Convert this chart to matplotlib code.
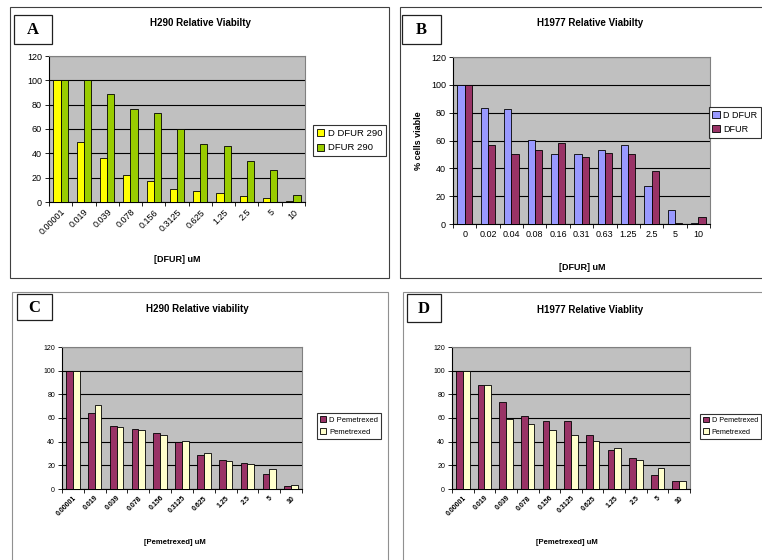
import numpy as np
import matplotlib.pyplot as plt
from matplotlib.patches import Rectangle

plt.rcParams['font.family'] = ['Liberation Sans', 'DejaVu Sans']

W, H = 762, 560

# panel A - H290 DFUR
dfur_a_labels = ['0.00001', '0.019', '0.039', '0.078', '0.156', '0.3125',
                 '0.625', '1.25', '2.5', '5', '10']
d_dfur_290 = [100, 49, 36, 22, 17, 11, 9, 7, 5, 3, 0.8]
dfur_290 = [100, 100, 88.5, 76.5, 73.5, 60, 48, 46, 34, 26, 5.7]

# panel B - H1977 DFUR
dfur_b_labels = ['0', '0.02', '0.04', '0.08', '0.16', '0.31', '0.63', '1.25',
                 '2.5', '5', '10']
d_dfur_1977 = [100, 83.2, 82.3, 60.5, 50, 50.4, 53, 56.5, 27.3, 10, 0.5]
dfur_1977 = [100, 56.5, 50.5, 53, 58.5, 48.5, 51, 50.5, 38, 0.5, 5]

# panels C and D - pemetrexed
pem_labels = ['0.00001', '0.019', '0.039', '0.078', '0.156', '0.3125',
              '0.625', '1.25', '2.5', '5', '10']
d_pem_290 = [100, 64.2, 53.6, 50.3, 47.5, 39.5, 29, 24.6, 21.8, 12.8, 2.5]
pem_290 = [100, 71.2, 52.5, 50, 45.5, 40.5, 30.4, 23.5, 21, 16.5, 3.4]
d_pem_1977 = [100, 87.5, 73.3, 62, 57.2, 57.2, 45.6, 32.8, 25.8, 11.7, 7]
pem_1977 = [100, 87.5, 59.4, 55, 50, 45.3, 40.8, 35, 24.7, 17.5, 7]

YELLOW = '#FFFF00'
GREEN = '#99CC00'
LAVENDER = '#9999FF'
MAROON = '#993366'
CREAM = '#FFFFCC'


def box(x0, y0, x1, y1):
    # pixel box -> figure fraction [left, bottom, width, height]
    return [x0 / W, 1 - y1 / H, (x1 - x0) / W, (y1 - y0) / H]


def frame(fig, x0, y0, x1, y1, color, lw=0.8):
    l, b, w, h = box(x0, y0, x1, y1)
    fig.patches.append(Rectangle((l, b), w, h, transform=fig.transFigure,
                                 fill=False, edgecolor=color, lw=lw))


def ftext(fig, x, y, s, **kw):
    fig.text(x / W, 1 - y / H, s, ha='center', va='center', **kw)


def letter_box(fig, x0, y0, x1, y1, s):
    frame(fig, x0, y0, x1, y1, '#202020', lw=0.9)
    ftext(fig, (x0 + x1) / 2, (y0 + y1) / 2 + 1, s, fontsize=12,
          fontweight='bold', family='Liberation Serif')


def bar_panel(ax, labels, s1, s2, c1, c2, names, leg_xy, tick_fs=6.5,
              rot=45, tick_bold=False, leg_fs=6.5, leg_loc='upper left'):
    n = len(labels)
    x = np.arange(n)
    w = 0.31
    ax.set_facecolor('#C0C0C0')
    b1 = ax.bar(x - w / 2, s1, w, color=c1, edgecolor='black', lw=0.6,
                label=names[0], zorder=3)
    b2 = ax.bar(x + w / 2, s2, w, color=c2, edgecolor='black', lw=0.6,
                label=names[1], zorder=3)
    ax.set_xlim(-0.5, n - 0.5)
    ax.set_ylim(0, 120)
    ax.set_yticks(np.arange(0, 121, 20))
    ax.yaxis.grid(True, color='black', lw=0.8, zorder=1)
    ax.set_axisbelow(True)
    for side in ['top', 'right']:
        ax.spines[side].set_color('#808080')
    ax.tick_params(axis='y', labelsize=tick_fs, length=3, width=0.6, pad=2)
    ax.set_xticks(np.arange(n + 1) - 0.5, minor=False)
    ax.set_xticklabels([])
    ax.tick_params(axis='x', which='major', length=3, width=0.6)
    ax.set_xticks(x, minor=True)
    if rot:
        ax.set_xticklabels(labels, minor=True, rotation=rot, ha='right',
                           rotation_mode='anchor', fontsize=tick_fs,
                           fontweight='bold' if tick_bold else 'normal')
    else:
        ax.set_xticklabels(labels, minor=True, fontsize=tick_fs)
    ax.tick_params(axis='x', which='minor', length=0, pad=4)
    leg = ax.legend(handles=[b1, b2], loc=leg_loc,
                    bbox_to_anchor=(leg_xy[0] / W, 1 - leg_xy[1] / H),
                    bbox_transform=ax.figure.transFigure, fontsize=leg_fs,
                    frameon=True, fancybox=False, edgecolor='black',
                    handlelength=0.8, handleheight=0.8, handletextpad=0.4,
                    borderpad=0.4, labelspacing=0.6, borderaxespad=0)
    leg.get_frame().set_linewidth(0.8)


fig = plt.figure(figsize=(W / 100, H / 100), dpi=100)

# ---- A ----
frame(fig, 10, 7, 389, 278, '#404040')
letter_box(fig, 14, 15, 52, 44, 'A')
ftext(fig, 200, 23, 'H290 Relative Viabilty', fontsize=7, fontweight='bold')
axA = fig.add_axes(box(49, 56, 305, 202))
bar_panel(axA, dfur_a_labels, d_dfur_290, dfur_290, YELLOW, GREEN,
          ['D DFUR 290', 'DFUR 290'], (313, 125), tick_fs=6.5, leg_fs=6.8)
ftext(fig, 177, 260, '[DFUR] uM', fontsize=6.5, fontweight='bold')

# ---- B ----
frame(fig, 400, 7, 800, 278, '#404040')
letter_box(fig, 402, 15, 441, 44, 'B')
ftext(fig, 590, 23, 'H1977 Relative Viabilty', fontsize=7, fontweight='bold')
axB = fig.add_axes(box(453, 57, 710, 224))
bar_panel(axB, dfur_b_labels, d_dfur_1977, dfur_1977, LAVENDER, MAROON,
          ['D DFUR', 'DFUR'], (761, 107), tick_fs=6.5, rot=0, leg_fs=6.5,
          leg_loc='upper right')
axB.set_ylabel('% cells viable', fontsize=6.5, fontweight='bold', labelpad=6)
ftext(fig, 582, 267, '[DFUR] uM', fontsize=6.5, fontweight='bold')

# ---- C ----
frame(fig, 12, 292, 388, 600, '#909090')
letter_box(fig, 17, 294, 52, 320, 'C')
ftext(fig, 197, 309, 'H290 Relative viability', fontsize=7,
      fontweight='bold')
axC = fig.add_axes(box(62, 347, 302, 489))
bar_panel(axC, pem_labels, d_pem_290, pem_290, MAROON, CREAM,
          ['D Pemetrexed', 'Pemetrexed'], (317, 413), tick_fs=5,
          tick_bold=True, leg_fs=5.5)
ftext(fig, 175, 542, '[Pemetrexed] uM', fontsize=5.5, fontweight='bold')

# ---- D ----
frame(fig, 403, 292, 800, 600, '#909090')
letter_box(fig, 407, 294, 441, 322, 'D')
ftext(fig, 590, 310, 'H1977 Relative Viablity', fontsize=7,
      fontweight='bold')
axD = fig.add_axes(box(452, 347, 690, 489))
bar_panel(axD, pem_labels, d_pem_1977, pem_1977, MAROON, CREAM,
          ['D Pemetrexed', 'Pemetrexed'], (761, 414), tick_fs=5,
          tick_bold=True, leg_fs=5.2, leg_loc='upper right')
ftext(fig, 567, 543, '[Pemetrexed] uM', fontsize=5.5, fontweight='bold')

fig.savefig('out.png', dpi=100)
